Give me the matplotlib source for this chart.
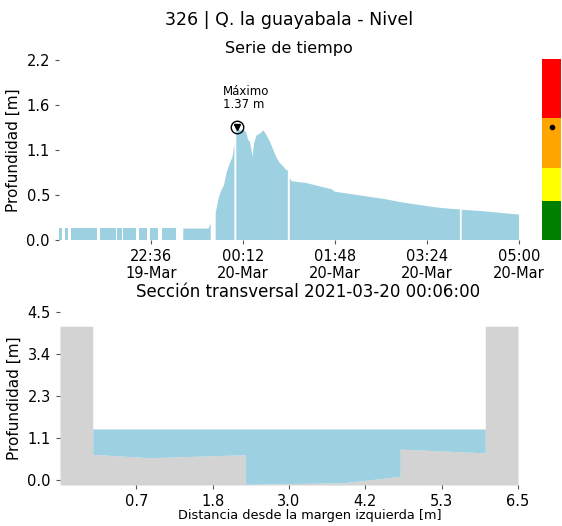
import numpy as np
import pandas as pd
import matplotlib
matplotlib.use("Agg")
import matplotlib.pyplot as plt
import matplotlib.dates as md

# --- serie de tiempo (minutos desde 2021-03-19 21:00, nan = dato faltante) ---
nan = np.nan
minutos = [0.3, 3.1, 4.7, 6.3, 9.4, 11.0, 12.8, 39.3, 41.0, 42.8, 59.5, 60.2,
           60.8, 65.4, 66.0, 66.5, 80.4, 82.0, 83.2, 91.5, 93.0, 95.0, 103.6, 106.0,
           107.8, 122.1, 126.0, 129.7, 156.0, 158.3, 161.0,
           163.5, 166.2, 168.7, 172.2, 175.0, 178.4, 181.2, 183.0, 184.0,
           185.0, 186.0, 188.9, 192.3, 195.1, 197.5, 199.3, 201.1, 202.1, 203.5,
           206.3, 209.7, 213.2, 216.7, 220.2, 223.6, 227.2, 230.6, 234.1, 236.6,
           238.8, 239.8, 240.8, 242.8, 248.0, 256.7, 270.6, 284.6, 288.0, 305.4,
           322.8, 340.2, 357.6, 374.9, 392.4, 409.8, 418.3, 419.2, 420.2, 444.5,
           462.0, 480.0]
nivel = [0.145, 0.145, nan, 0.145, 0.145, nan, 0.145, 0.145, nan, 0.145, 0.145, nan,
         0.145, 0.145, nan, 0.145, 0.145, nan, 0.145, 0.145, nan, 0.145, 0.145, nan,
         0.145, 0.145, nan, 0.14, 0.14, 0.20, nan,
         0.33, 0.49, 0.59, 0.67, 0.83, 0.94, 1.02, 1.18, nan,
         1.34, 1.37, 1.34, 1.35, 1.32, 1.22, 1.20, 1.08, 1.02, 1.18,
         1.28, 1.30, 1.34, 1.28, 1.20, 1.10, 1.00, 0.94, 0.90, 0.86,
         0.85, nan, 0.75, 0.72, 0.71, 0.70, 0.66, 0.62, 0.59, 0.56,
         0.53, 0.50, 0.46, 0.43, 0.40, 0.38, 0.375, nan, 0.37, 0.35,
         0.33, 0.31]
inicio = pd.Timestamp("2021-03-19 21:00")
fin = pd.Timestamp("2021-03-20 05:00")
t_max = pd.Timestamp("2021-03-20 00:06")
nivel_max = 1.37

# umbrales de alerta
umbrales = [0.0, 0.47, 0.88, 1.48, 2.2]
colores_alerta = ["green", "yellow", "orange", "red"]

# --- seccion transversal ---
sec_x = [-0.5, 0.0, 0.0, 0.86, 2.33, 2.33, 3.84, 4.7, 4.7, 6.0, 6.0, 6.5]
sec_y = [4.12, 4.12, 0.69, 0.60, 0.68, -0.11, -0.07, 0.10, 0.83, 0.73, 4.12, 4.12]
y_ticks_sec = ["0.0", "1.1", "2.3", "3.4", "4.5"]
y_ticks_serie = ["0.0", "0.5", "1.1", "1.6", "2.2"]

azul = "#9dd0e0"
gris = "lightgray"

fig = plt.figure(figsize=(5.62, 5.26), dpi=100)
fig.text(289 / 562, 1 - 20 / 526, "326 | Q. la guayabala - Nivel", ha="center", va="center", fontsize=12.5)

def limpiar(ax):
    for s in ax.spines.values():
        s.set_visible(False)
    ax.tick_params(length=3, width=0.8, color="#555555", labelsize=10.5)

# serie de tiempo
ax = fig.add_axes([59 / 562, 1 - 240 / 526, 460 / 562, 180 / 526])
tiempos = inicio + pd.to_timedelta(minutos, unit="min")
ax.fill_between(tiempos, 0, np.array(nivel), color=azul, lw=0)
ax.set_xlim(inicio, fin)
ax.set_ylim(0, 2.2)
xt = pd.date_range(inicio, fin, periods=6)[1:]
ax.set_xticks(xt)
ax.set_xticklabels([d.strftime("%H:%M\n%d-%b") for d in xt])
ax.set_yticks(np.linspace(0, 2.2, 5))
ax.set_yticklabels(y_ticks_serie)
ax.set_ylabel("Profundidad [m]", fontsize=11)
ax.set_title("Serie de tiempo", fontsize=11.5, pad=5)
limpiar(ax)
ax.plot(t_max, nivel_max + 0.01, marker="o", ms=9, mfc="none", mec="black", mew=1)
ax.plot(t_max, nivel_max + 0.01, marker="v", ms=4.5, color="black")
ax.annotate("Máximo\n%.2f m" % nivel_max, (md.date2num(t_max), nivel_max), xytext=(-10, 12),
            textcoords="offset points", ha="left", va="bottom", fontsize=8.5, linespacing=1.0)

# barra de alertas
axc = fig.add_axes([542 / 562, 1 - 240 / 526, 19 / 562, 181 / 526])
for i, c in enumerate(colores_alerta):
    axc.axhspan(umbrales[i], umbrales[i + 1], color=c, lw=0)
axc.plot(0.5, nivel_max, "ko", ms=3)
axc.set_xlim(0, 1)
axc.set_ylim(0, 2.2)
axc.axis("off")

# seccion transversal
ax2 = fig.add_axes([60 / 562, 1 - 485 / 526, 458 / 562, 173 / 526])
ax2.fill_between(sec_x, sec_y, -0.13, color=gris, lw=0)
cx = np.array(sec_x[2:10])
cy = np.array(sec_y[2:10])
ax2.fill_between(cx, cy, nivel_max, where=cy < nivel_max, color=azul, lw=0)
ax2.set_xlim(-0.5, 6.5)
ax2.set_ylim(-0.13, 4.5)
xs = np.linspace(-0.5, 6.5, 7)[1:]
ax2.set_xticks(xs)
ax2.set_xticklabels(["%.1f" % v for v in xs])
ax2.set_yticks(np.linspace(0, 4.5, 5))
ax2.set_yticklabels(y_ticks_sec)
ax2.set_ylabel("Profundidad [m]", fontsize=11)
ax2.set_xlabel("Distancia desde la margen izquierda [m]", fontsize=9.3)
ax2.xaxis.set_label_coords((310 - 60) / 458, -24 / 173)
limpiar(ax2)
fig.text(308 / 562, 1 - 292 / 526, "Sección transversal " + t_max.strftime("%Y-%m-%d %H:%M:%S"),
         ha="center", va="center", fontsize=12)

plt.savefig("out.png", dpi=100)
